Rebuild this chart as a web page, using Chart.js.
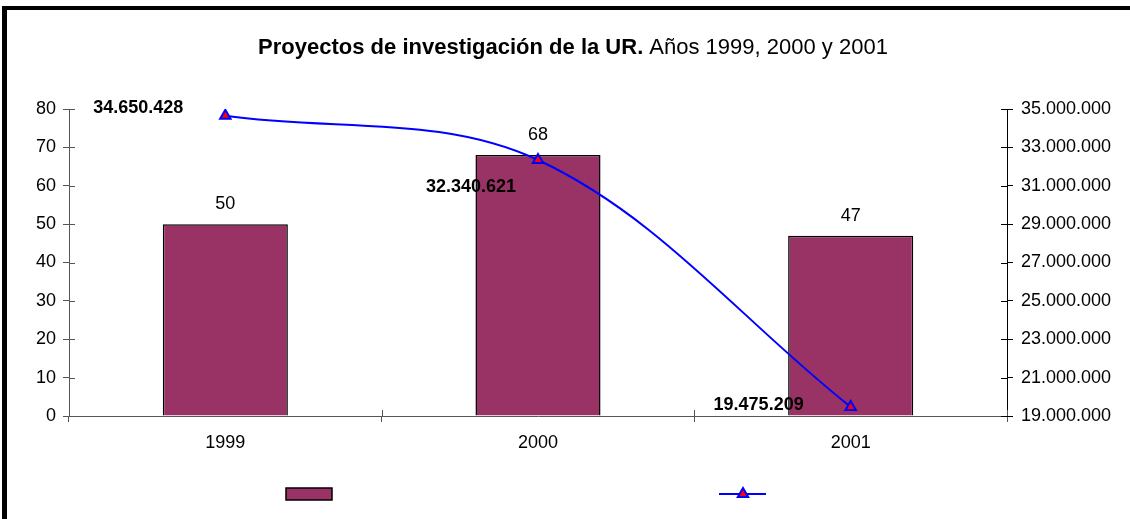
<!DOCTYPE html>
<html>
<head>
<meta charset="utf-8">
<script src="https://cdn.jsdelivr.net/npm/chart.js@4/dist/chart.umd.min.js"></script>
<style>
  body { margin: 0; background: #fff; }
  #frame { position: absolute; left: 2px; top: 6px; width: 1140px; height: 530px;
           border-style: solid; border-color: #000; border-width: 4px 0 0 5px; }
  #chart { position: absolute; left: 0; top: 0; }
</style>
</head>
<body>
<div id="frame"></div>
<canvas id="chart" width="1130" height="519"></canvas>
<script>
var anios = ['1999', '2000', '2001'];
var proyectos = [50, 68, 47];
var importes = [34650428, 32340621, 19475209];

var colorBarra = '#993366';
var colorLinea = '#0000ff';
var fuente = '"Liberation Sans", Arial';

function puntos(n) {
  return String(Math.round(n)).replace(/\B(?=(\d{3})+(?!\d))/g, '.');
}

// desplazamiento de las etiquetas de la línea (como en el original)
var offsetsLinea = [[-42, -8], [-22, 27], [-47, -2]];

var pluginExtra = {
  id: 'extra',
  afterDraw: function(chart) {
    var ctx = chart.ctx;
    var area = chart.chartArea;
    ctx.save();

    // título: parte en negrita + parte normal
    var t1 = 'Proyectos de investigación de la UR.';
    var t2 = ' Años 1999, 2000 y 2001';
    ctx.font = 'bold 22px ' + fuente;
    var w1 = ctx.measureText(t1).width;
    ctx.font = '22px ' + fuente;
    var w2 = ctx.measureText(t2).width;
    var x0 = 573 - (w1 + w2) / 2;
    ctx.fillStyle = '#000';
    ctx.textBaseline = 'alphabetic';
    ctx.textAlign = 'left';
    ctx.font = 'bold 22px ' + fuente;
    ctx.fillText(t1, x0, 54);
    ctx.font = '22px ' + fuente;
    ctx.fillText(t2, x0 + w1, 54);

    // marcas de eje hacia dentro
    ctx.lineWidth = 1;
    var yl = chart.scales.y;
    ctx.strokeStyle = '#555';
    yl.ticks.forEach(function(t, i) {
      var py = Math.round(yl.getPixelForTick(i)) + 0.5;
      ctx.beginPath(); ctx.moveTo(area.left, py); ctx.lineTo(area.left + 6, py); ctx.stroke();
    });
    var yr = chart.scales.y1;
    ctx.strokeStyle = '#000';
    yr.ticks.forEach(function(t, i) {
      var py = Math.round(yr.getPixelForTick(i)) + 0.5;
      ctx.beginPath(); ctx.moveTo(area.right - 6, py); ctx.lineTo(area.right, py); ctx.stroke();
    });
    ctx.strokeStyle = '#555';
    for (var i = 0; i <= anios.length; i++) {
      var px = Math.round(area.left + (area.right - area.left) * i / anios.length) + 0.5;
      ctx.beginPath(); ctx.moveTo(px, area.bottom - 6); ctx.lineTo(px, area.bottom); ctx.stroke();
    }

    // etiquetas de las barras
    ctx.fillStyle = '#000';
    ctx.font = '18px ' + fuente;
    ctx.textAlign = 'center';
    ctx.textBaseline = 'middle';
    chart.getDatasetMeta(0).data.forEach(function(bar, i) {
      ctx.fillText(String(proyectos[i]), bar.x, bar.y - 20);
    });

    // etiquetas de la línea
    ctx.font = 'bold 18px ' + fuente;
    ctx.textAlign = 'right';
    chart.getDatasetMeta(1).data.forEach(function(pt, i) {
      ctx.fillText(puntos(importes[i]), pt.x + offsetsLinea[i][0], pt.y + offsetsLinea[i][1]);
    });

    // leyenda sin texto
    ctx.fillStyle = colorBarra;
    ctx.strokeStyle = '#000';
    ctx.lineWidth = 1.5;
    ctx.fillRect(286, 488, 46, 12);
    ctx.strokeRect(286, 488, 46, 12);
    ctx.strokeStyle = colorLinea;
    ctx.lineWidth = 2;
    ctx.beginPath(); ctx.moveTo(719, 494); ctx.lineTo(766, 494); ctx.stroke();
    ctx.fillStyle = 'red';
    Chart.helpers.drawPoint(ctx, { pointStyle: 'triangle', radius: 6, borderWidth: 2, rotation: 0 }, 743, 494);

    ctx.restore();
  }
};

new Chart(document.getElementById('chart'), {
  data: {
    labels: anios,
    datasets: [
      {
        type: 'bar',
        label: 'Proyectos',
        data: proyectos,
        yAxisID: 'y',
        backgroundColor: colorBarra,
        borderColor: '#000',
        borderWidth: 1.5,
        barPercentage: 0.8,
        categoryPercentage: 0.5,
        order: 2
      },
      {
        type: 'line',
        label: 'Importe',
        data: importes,
        yAxisID: 'y1',
        borderColor: colorLinea,
        borderWidth: 2,
        tension: 0.35,
        pointStyle: 'triangle',
        pointRadius: 6,
        pointBackgroundColor: 'red',
        pointBorderColor: colorLinea,
        pointBorderWidth: 2,
        order: 1
      }
    ]
  },
  options: {
    responsive: false,
    animation: false,
    layout: { padding: { top: 109, left: 0, right: 0, bottom: 0 } },
    plugins: {
      legend: { display: false },
      title: { display: false },
      tooltip: { enabled: false }
    },
    scales: {
      x: {
        offset: true,
        afterFit: function(s) { s.height = 103; },
        grid: { offset: true, drawOnChartArea: false, drawTicks: true, tickLength: 6, color: '#555' },
        border: { color: '#555' },
        ticks: { color: '#000', padding: 10, font: { family: fuente, size: 18 } }
      },
      y: {
        position: 'left',
        min: 0,
        max: 80,
        afterFit: function(s) { s.width = 69; },
        grid: { drawOnChartArea: false, drawTicks: true, tickLength: 6, color: '#555' },
        border: { color: '#555' },
        ticks: { stepSize: 10, color: '#000', padding: 7, font: { family: fuente, size: 18 } }
      },
      y1: {
        position: 'right',
        min: 19000000,
        max: 35000000,
        afterFit: function(s) { s.width = 123; },
        grid: { drawOnChartArea: false, drawTicks: true, tickLength: 6, color: '#000' },
        border: { color: '#000' },
        ticks: {
          stepSize: 2000000,
          color: '#000',
          padding: 8,
          font: { family: fuente, size: 18 },
          callback: function(v) { return puntos(v); }
        }
      }
    }
  },
  plugins: [pluginExtra]
});
</script>
</body>
</html>
